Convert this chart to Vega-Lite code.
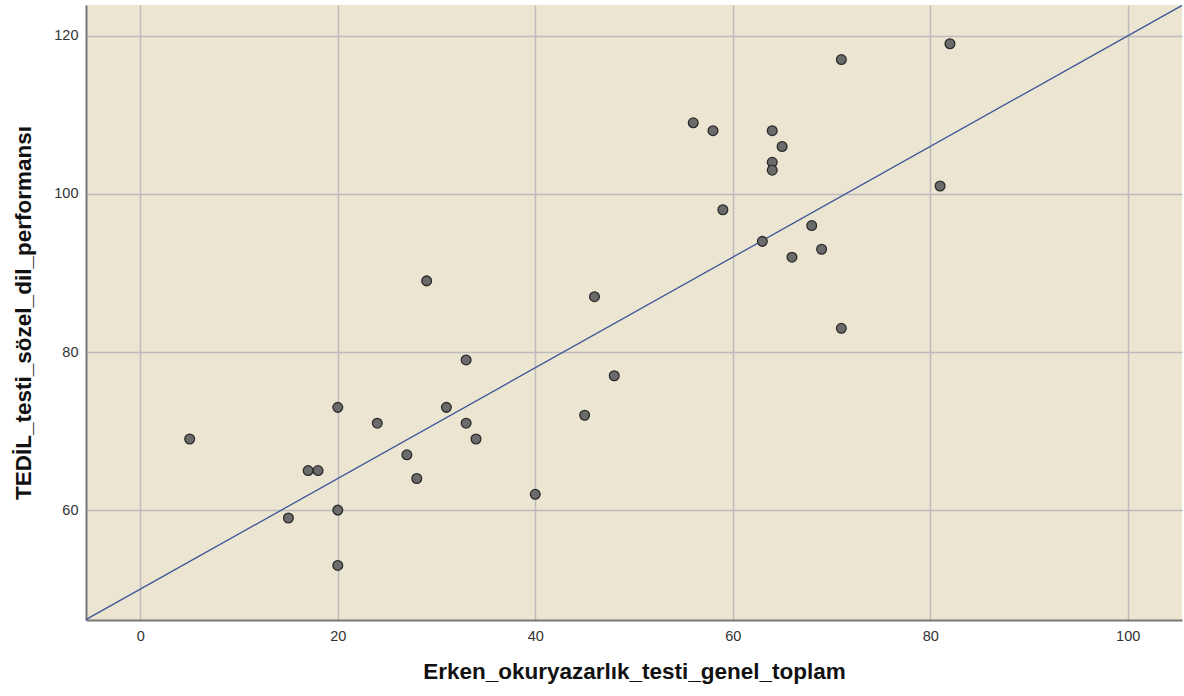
{
  "$schema": "https://vega.github.io/schema/vega-lite/v6.json",
  "width": 1096,
  "height": 615,
  "autosize": {"type": "none"},
  "padding": {"left": 86, "top": 5, "right": 2, "bottom": 76},
  "background": "white",
  "config": {
    "view": {"fill": "#ebe5d1", "stroke": null},
    "font": "Liberation Sans"
  },
  "datasets": {
    "pts": [
      {"x": 5, "y": 69}, {"x": 15, "y": 59}, {"x": 17, "y": 65}, {"x": 18, "y": 65},
      {"x": 20, "y": 73}, {"x": 20, "y": 60}, {"x": 20, "y": 53}, {"x": 24, "y": 71},
      {"x": 27, "y": 67}, {"x": 28, "y": 64}, {"x": 29, "y": 89}, {"x": 31, "y": 73},
      {"x": 33, "y": 79}, {"x": 33, "y": 71}, {"x": 34, "y": 69}, {"x": 40, "y": 62},
      {"x": 45, "y": 72}, {"x": 46, "y": 87}, {"x": 48, "y": 77}, {"x": 56, "y": 109},
      {"x": 58, "y": 108}, {"x": 59, "y": 98}, {"x": 63, "y": 94}, {"x": 64, "y": 108},
      {"x": 64, "y": 104}, {"x": 64, "y": 103}, {"x": 65, "y": 106}, {"x": 66, "y": 92},
      {"x": 68, "y": 96}, {"x": 69, "y": 93}, {"x": 71, "y": 117}, {"x": 71, "y": 83},
      {"x": 81, "y": 101}, {"x": 82, "y": 119}
    ],
    "fit": [
      {"x": -5.5, "y": 46.15},
      {"x": 105.5, "y": 123.85}
    ]
  },
  "layer": [
    {
      "data": {"name": "fit"},
      "mark": {"type": "line", "color": "#3b5597", "strokeWidth": 1.3, "clip": true},
      "encoding": {
        "x": {
          "field": "x", "type": "quantitative",
          "scale": {"domain": [-5.5, 105.5], "nice": false, "zero": false},
          "axis": {
            "values": [0, 20, 40, 60, 80, 100],
            "title": "Erken_okuryazarlık_testi_genel_toplam",
            "titleFont": "Liberation Sans", "titleFontSize": 22.5, "titleFontWeight": "bold", "titleColor": "#111111",
            "titlePadding": 18,
            "labelFont": "Liberation Sans", "labelFontSize": 14.5, "labelColor": "#333333", "labelPadding": 9,
            "ticks": false,
            "domainColor": "#777777", "domainWidth": 2,
            "grid": true, "gridColor": "#bcbcbc", "gridWidth": 1.5
          }
        },
        "y": {
          "field": "y", "type": "quantitative",
          "scale": {"domain": [46.1, 123.9], "nice": false, "zero": false},
          "axis": {
            "values": [60, 80, 100, 120],
            "title": "TEDİL_testi_sözel_dil_performansı",
            "titleFont": "Liberation Sans", "titleFontSize": 22.5, "titleFontWeight": "bold", "titleColor": "#111111",
            "titlePadding": 18,
            "labelFont": "Liberation Sans", "labelFontSize": 14.5, "labelColor": "#333333", "labelPadding": 8,
            "ticks": false,
            "domainColor": "#777777", "domainWidth": 2,
            "grid": true, "gridColor": "#bcbcbc", "gridWidth": 1.5
          }
        }
      }
    },
    {
      "data": {"name": "pts"},
      "mark": {"type": "point", "filled": true, "fill": "#6b6b6b", "stroke": "#2b2b2b", "strokeWidth": 1.3, "size": 95, "opacity": 1},
      "encoding": {
        "x": {"field": "x", "type": "quantitative"},
        "y": {"field": "y", "type": "quantitative"}
      }
    }
  ]
}
